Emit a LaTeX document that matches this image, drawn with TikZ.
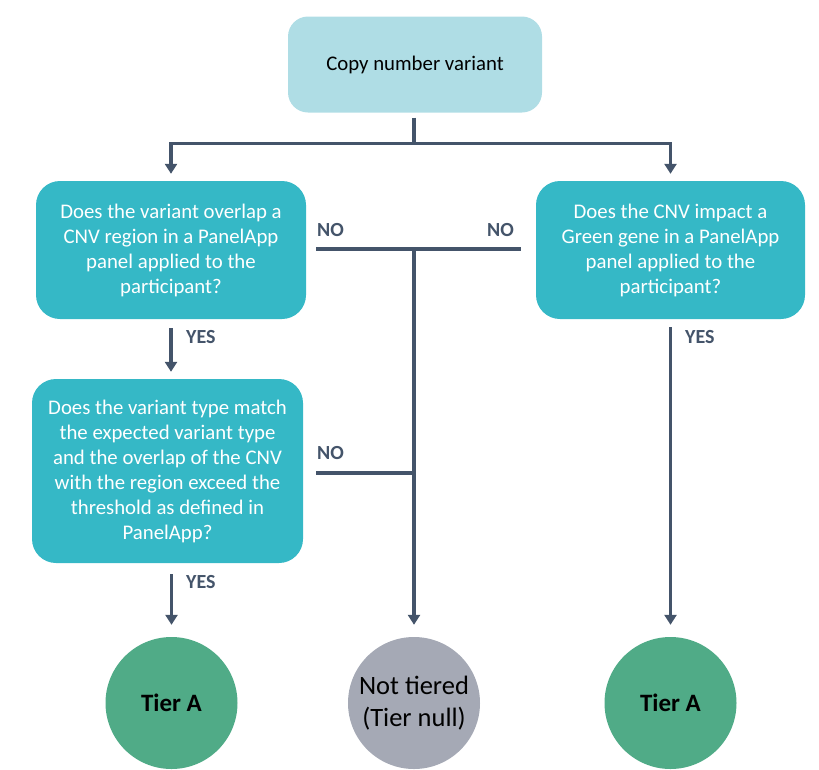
\documentclass[tikz,border=0pt]{standalone}
\usepackage{fontspec}
\setmainfont{Carlito}
\usetikzlibrary{arrows.meta,calc}
\definecolor{lightbox}{HTML}{AFDDE5}
\definecolor{tealbox}{HTML}{35B8C6}
\definecolor{linec}{HTML}{44546A}
\definecolor{greenc}{HTML}{50AB87}
\definecolor{greyc}{HTML}{A5A9B5}
\begin{document}
\begin{tikzpicture}[x=1pt,y=-1pt,
  qbox/.style={fill=tealbox,draw=none,rounded corners=24pt,text=white,align=center,
    font=\fontsize{20.8}{25}\selectfont,inner sep=0pt},
  topbox/.style={fill=lightbox,draw=none,rounded corners=20pt,text=black,align=center,
    font=\fontsize{20.8}{25}\selectfont,inner sep=0pt},
  tiercirc/.style={circle,draw=none,minimum size=132pt,inner sep=0pt,align=center},
  conn/.style={draw=linec,line width=3.8pt},
  arr/.style={conn,-{Triangle[width=12pt,length=10pt]}},
  lab/.style={text=linec,font=\fontsize{20}{22}\selectfont\bfseries,inner sep=0pt}]
\useasboundingbox (0,0) rectangle (819,769);

\node[topbox,minimum width=254pt,minimum height=96pt] (top) at (415,64.5) {Copy number variant};
\node[qbox,minimum width=270pt,minimum height=138pt] (q1) at (171,250)
  {Does the variant overlap a\\CNV region in a PanelApp\\panel applied to the\\participant?};
\node[qbox,minimum width=269pt,minimum height=138pt] (q3) at (670.5,250)
  {Does the CNV impact a\\Green gene in a PanelApp\\panel applied to the\\participant?};
\node[qbox,minimum width=271pt,minimum height=184pt] (q2) at (167.5,471)
  {Does the variant type match\\the expected variant type\\and the overlap of the CNV\\with the region exceed the\\threshold as defined in\\PanelApp?};

\node[tiercirc,fill=greenc,font=\fontsize{25}{30}\selectfont\bfseries] (ta1) at (171.5,703) {Tier A};
\node[tiercirc,fill=greyc,font=\fontsize{26.5}{32}\selectfont] (tn) at (414,703) {Not tiered\\(Tier null)};
\node[tiercirc,fill=greenc,font=\fontsize{25}{30}\selectfont\bfseries] (ta2) at (670.5,703) {Tier A};

\coordinate (split) at (414,143.5);
\coordinate (noL) at (316,249);
\coordinate (noR) at (521,249);
\coordinate (noJ) at (414,249);
\coordinate (no2) at (316,473);
\coordinate (no2J) at (414,473);

% top split
\draw[conn,shorten <=5pt] (top.south -| split) -- (split);
\draw[arr,shorten >=7pt] (split) -| (q1.north);
\draw[arr,shorten >=7pt] (split) -| (q3.north -| ta2.north);

% NO lines
\draw[conn] (noL) -- (noR);
\draw[conn] (no2) -- (no2J);
\draw[arr,shorten <=-1.9pt,shorten >=12pt] (noJ) -- (tn.north);

% YES arrows
\draw[arr,shorten <=9pt,shorten >=7pt] (q1.south) -- (q2.north -| q1.south);
\draw[arr,shorten <=11pt,shorten >=12pt] (q2.south -| ta1.north) -- (ta1.north);
\draw[arr,shorten <=8pt,shorten >=12pt] (q3.south -| ta2.north) -- (ta2.north);

% labels
\node[lab,anchor=west] (lno1) at (317,230) {NO};
\node[lab,anchor=east] (lno2) at (514,230) {NO};
\node[lab,anchor=west] (lno3) at (317,453) {NO};
\node[lab,anchor=west] (lyes1) at (186,337) {YES};
\node[lab,anchor=west] (lyes2) at (186,582) {YES};
\node[lab,anchor=west] (lyes3) at (685,337) {YES};
\end{tikzpicture}
\end{document}
